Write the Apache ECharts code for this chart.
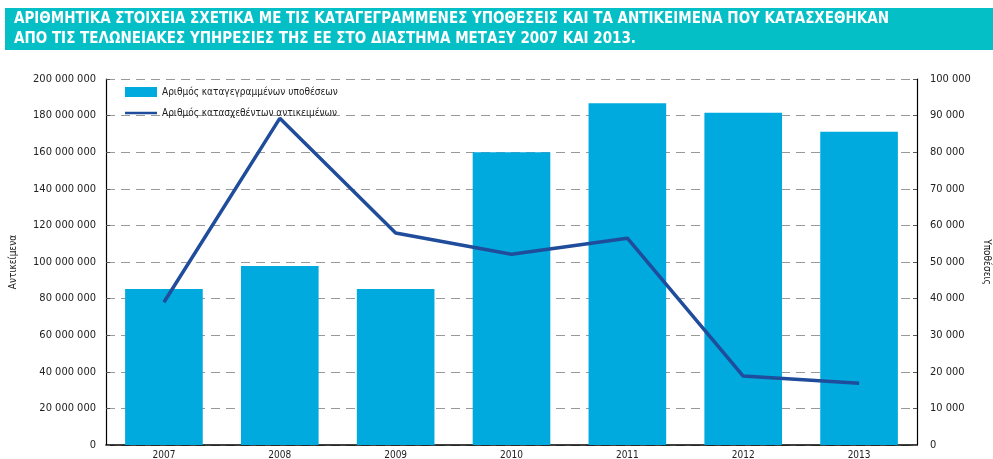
<!DOCTYPE html>
<html>
<head>
<meta charset="utf-8">
<script src="https://cdn.jsdelivr.net/npm/echarts@6/dist/echarts.min.js"></script>
<style>
  html, body { margin: 0; padding: 0; background: #fff; }
  #chart { width: 993px; height: 459px; }
</style>
</head>
<body>
<div id="chart"></div>
<script>
// Δεδομένα
const years = ['2007', '2008', '2009', '2010', '2011', '2012', '2013'];
const casesCount = [42600, 48900, 42600, 80000, 93400, 90800, 85600];          // υποθέσεις (δεξιός άξονας)
const itemsCount = [78000000, 178500000, 115800000, 104200000, 113000000, 37700000, 33700000]; // αντικείμενα (αριστερός άξονας)
const titleLines = [
    'ΑΡΙΘΜΗΤΙΚΑ ΣΤΟΙΧΕΙΑ ΣΧΕΤΙΚΑ ΜΕ ΤΙΣ ΚΑΤΑΓΕΓΡΑΜΜΕΝΕΣ ΥΠΟΘΕΣΕΙΣ ΚΑΙ ΤΑ ΑΝΤΙΚΕΙΜΕΝΑ ΠΟΥ ΚΑΤΑΣΧΕΘΗΚΑΝ',
    'ΑΠΟ ΤΙΣ ΤΕΛΩΝΕΙΑΚΕΣ ΥΠΗΡΕΣΙΕΣ ΤΗΣ ΕΕ ΣΤΟ ΔΙΑΣΤΗΜΑ ΜΕΤΑΞΥ 2007 ΚΑΙ 2013.'
];

const font = 'DejaVu Sans Condensed';

// χωρίζει τις χιλιάδες με κενό
function spaced(v) {
    return String(v).replace(/\B(?=(\d{3})+(?!\d))/g, ' ');
}

const chart = echarts.init(document.getElementById('chart'));

const option = {
    animation: false,
    backgroundColor: '#fff',
    graphic: [{
        type: 'rect',
        left: 5, top: 8,
        shape: { width: 988, height: 42 },
        style: { fill: '#05bfc7' },
        z: 0
    }],
    title: {
        text: titleLines.join('\n'),
        left: 14, top: 9,
        padding: 0,
        textStyle: {
            color: '#fff',
            fontFamily: font,
            fontWeight: 'bold',
            fontSize: 15,
            lineHeight: 20
        },
        z: 5
    },
    legend: {
        orient: 'vertical',
        left: 120, top: 82,
        itemWidth: 32, itemHeight: 10,
        itemGap: 11,
        textStyle: { fontFamily: font, fontSize: 10, color: '#222' },
        data: [
            { name: 'Αριθμός καταγεγραμμένων υποθέσεων', icon: 'rect' },
            { name: 'Αριθμός κατασχεθέντων αντικειμένων', icon: 'path://M0,4 L32,4 L32,6.5 L0,6.5 Z' }
        ]
    },
    grid: { left: 106, right: 76, top: 79, bottom: 14, outerBoundsMode: 'none' },
    xAxis: {
        type: 'category',
        data: years,
        axisLine: { lineStyle: { color: '#000', width: 1.5 } },
        axisTick: { show: false },
        axisLabel: { fontFamily: font, fontSize: 10, color: '#222', margin: 5 }
    },
    yAxis: [{
        type: 'value',
        min: 0, max: 200000000, interval: 20000000,
        name: 'Αντικείμενα',
        nameLocation: 'middle',
        nameRotate: 90,
        nameGap: 88,
        nameTextStyle: { fontFamily: font, fontSize: 10, color: '#222' },
        axisLine: { show: true, lineStyle: { color: '#000', width: 1.2 } },
        axisTick: { show: true, inside: true, length: 4, lineStyle: { color: '#555' } },
        axisLabel: { fontFamily: font, fontSize: 11, color: '#222', margin: 10, formatter: spaced },
        splitLine: { lineStyle: { color: '#999', type: [9, 6], width: 1 } }
    }, {
        type: 'value',
        min: 0, max: 100000, interval: 10000,
        name: 'Υποθέσεις',
        nameLocation: 'middle',
        nameRotate: -90,
        nameGap: 58,
        nameTextStyle: { fontFamily: font, fontSize: 10, color: '#222' },
        axisLine: { show: true, lineStyle: { color: '#000', width: 1.2 } },
        axisTick: { show: true, inside: true, length: 4, lineStyle: { color: '#555' } },
        axisLabel: { fontFamily: font, fontSize: 11, color: '#222', margin: 13, formatter: spaced },
        splitLine: { show: false }
    }],
    series: [{
        name: 'Αριθμός καταγεγραμμένων υποθέσεων',
        type: 'bar',
        yAxisIndex: 1,
        data: casesCount,
        barWidth: '67%',
        itemStyle: { color: '#00a9de' },
        z: 2
    }, {
        name: 'Αριθμός κατασχεθέντων αντικειμένων',
        type: 'line',
        yAxisIndex: 0,
        data: itemsCount,
        symbol: 'none',
        lineStyle: { color: '#1f4c9b', width: 3.5 },
        itemStyle: { color: '#1f4c9b' },
        z: 3
    }]
};

chart.setOption(option);
</script>
</body>
</html>
